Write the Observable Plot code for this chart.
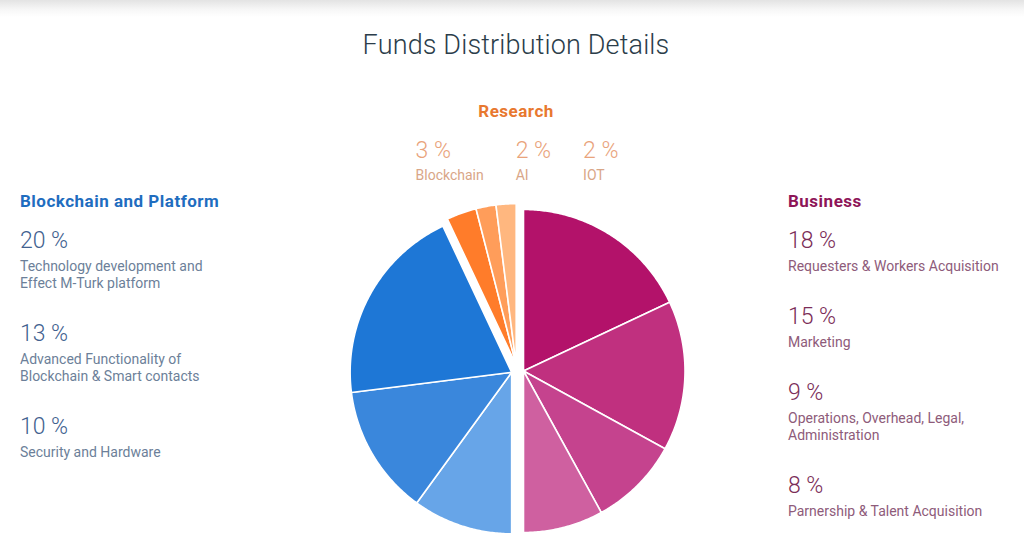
<!DOCTYPE html>
<html><head><meta charset="utf-8">
<script src="https://cdn.jsdelivr.net/npm/d3@7"></script>
<script src="https://cdn.jsdelivr.net/npm/@observablehq/plot@0.6"></script>
<style>
html,body{margin:0;padding:0;background:#fff;}
#page{position:relative;width:1024px;height:537px;overflow:hidden;font-family:Roboto,"Noto Sans",sans-serif;background:linear-gradient(#e3e3e3 0px,#f6f6f6 9px,#fff 17px);}
#chart{position:absolute;left:0;top:0;}
.t{position:absolute;white-space:pre;}
</style></head><body><div id="page"><div id="chart"></div></div>
<script>
// ---- data (clockwise from 12 o'clock) ----
const title = "Funds Distribution Details";
const groupNames = ["Business", "Blockchain and Platform", "Research"];
const sliceGroups = ["Business","Business","Business","Business",
  "Blockchain and Platform","Blockchain and Platform","Blockchain and Platform",
  "Research","Research","Research"];
const sliceValues = [18, 15, 9, 8, 10, 13, 20, 3, 2, 2];
const sliceLabels = [
  "Requesters & Workers Acquisition",
  "Marketing",
  "Operations, Overhead, Legal,\nAdministration",
  "Parnership & Talent Acquisition",
  "Security and Hardware",
  "Advanced Functionality of\nBlockchain & Smart contacts",
  "Technology development and\nEffect M-Turk platform",
  "Blockchain",
  "AI",
  "IOT"
];
const sliceColors = ["#b3126a","#c0307f","#c5438e","#cf60a0",
  "#67a5e8","#3a87dc","#1e77d6",
  "#ff7c2a","#ff9d5a","#ffb77f"];

// ---- styles ----
const groupStyle = {
  "Business": {head:"#8e1558", pct:"#7b2d58", desc:"#8e5b7a"},
  "Blockchain and Platform": {head:"#1f6dbf", pct:"#42618f", desc:"#6c7f99"},
  "Research": {head:"#e8782f", pct:"#e9a37b", desc:"#d9a687"}
};
const cx = 517, cy = 370.5, R = 161.5, explodePx = 6;

const rows = sliceValues.map((v, i) => ({value: v, group: sliceGroups[i], label: sliceLabels[i], color: sliceColors[i], idx: i}));
const arcs = d3.pie().sort(null).value(d => d.value).startAngle(0).endAngle(2 * Math.PI)(rows);

// group mid-angles for the exploded offsets
const gExt = d3.rollup(arcs, a => (d3.min(a, d => d.startAngle) + d3.max(a, d => d.endAngle)) / 2, d => d.data.group);
const e = explodePx / R;
const pts = [];
arcs.forEach((s, i) => {
  const m = gExt.get(s.data.group);
  const ox = e * Math.sin(m), oy = e * Math.cos(m);
  pts.push({id: i, x: ox, y: oy, color: s.data.color});
  const n = Math.max(4, Math.ceil((s.endAngle - s.startAngle) / 0.01));
  for (let k = 0; k <= n; k++) {
    const a = s.startAngle + (s.endAngle - s.startAngle) * k / n;
    pts.push({id: i, x: ox + Math.sin(a), y: oy + Math.cos(a), color: s.data.color});
  }
});

const chart = Plot.plot({
  width: 1024, height: 537,
  marginLeft: cx - R, marginRight: 1024 - (cx + R),
  marginTop: cy - R, marginBottom: 537 - (cy + R),
  style: {background: "transparent", overflow: "visible"},
  x: {domain: [-1, 1], axis: null},
  y: {domain: [-1, 1], axis: null},
  color: {type: "identity"},
  marks: [
    Plot.line(pts, {x: "x", y: "y", z: "id", fill: "color", stroke: "white", strokeWidth: 1.6, strokeLinejoin: "round", curve: "linear-closed"})
  ]
});
document.getElementById("chart").appendChild(chart);

// ---- text ----
const page = document.getElementById("page");
function txt(str, x, baseline, size, weight, color, opts = {}) {
  const L = opts.lh || size;
  const el = document.createElement("div");
  el.className = "t";
  el.textContent = str;
  el.style.fontSize = size + "px";
  el.style.lineHeight = L + "px";
  el.style.fontWeight = weight;
  el.style.color = color;
  if (opts.ls) el.style.letterSpacing = opts.ls + "px";
  el.style.top = (baseline - (L / 2 + 0.342 * size)) + "px";
  page.appendChild(el);
  if (opts.center) {
    const w = el.getBoundingClientRect().width;
    el.style.left = (x - w / 2) + "px";
  } else el.style.left = x + "px";
  return el;
}

txt(title, 516, 55, 27, 300, "#2b3d4a", {center: true, ls: 0.15});

function column(group, x) {
  const st = groupStyle[group];
  txt(group, x, 207, 17, 700, st.head, {ls: 0.5});
  const items = rows.filter(r => r.group === group).sort((a, b) => b.value - a.value);
  let y = 248;
  items.forEach(r => {
    txt(r.value + " %", x, y, 23, 300, st.pct);
    txt(r.label, x, y + 23, 14, 400, st.desc, {lh: 17});
    const n = r.label.split("\n").length;
    y = y + 23 + 17 * (n - 1) + 53;
  });
}
column("Blockchain and Platform", 20);
column("Business", 788);

// research row, centred over the pie
(function() {
  const g = "Research", st = groupStyle[g];
  txt(g, 516, 117, 17, 700, st.head, {center: true, ls: 0.5});
  const items = rows.filter(r => r.group === g).sort((a, b) => b.value - a.value);
  const gap = 32;
  const els = items.map(r => [txt(r.value + " %", 0, 158, 23, 300, st.pct), txt(r.label, 0, 180, 14, 400, st.desc)]);
  const widths = els.map(([a, b]) => Math.max(a.getBoundingClientRect().width, b.getBoundingClientRect().width));
  const total = d3.sum(widths) + gap * (widths.length - 1);
  let x = 517 - total / 2;
  els.forEach(([a, b], i) => { a.style.left = x + "px"; b.style.left = x + "px"; x += widths[i] + gap; });
})();
</script>
</body></html>
